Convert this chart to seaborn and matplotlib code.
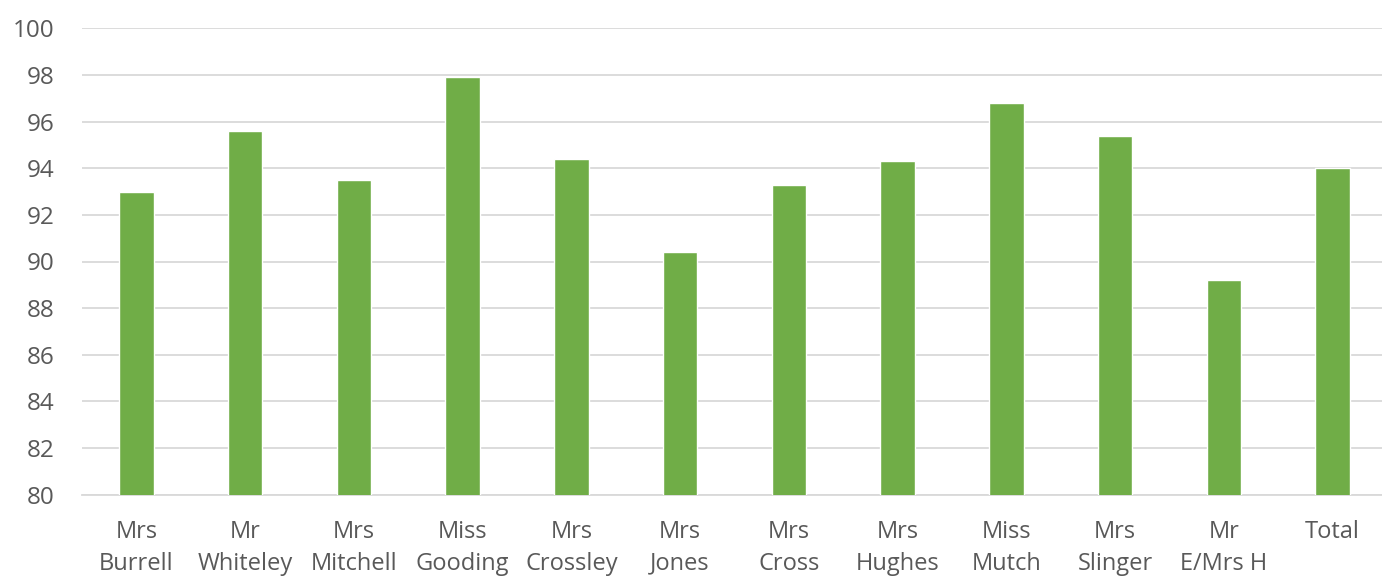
import matplotlib
matplotlib.use("Agg")
import matplotlib.pyplot as plt
import seaborn as sns
import pandas as pd

categories = ["Mrs\nBurrell", "Mr\nWhiteley", "Mrs\nMitchell", "Miss\nGooding", "Mrs\nCrossley",
              "Mrs\nJones", "Mrs\nCross", "Mrs\nHughes", "Miss\nMutch", "Mrs\nSlinger",
              "Mr\nE/Mrs H", "Total"]
attendance = [93.0, 95.6, 93.5, 97.9, 94.4, 90.4, 93.3, 94.3, 96.8, 95.4, 89.2, 94.0]
y_ticks = [80, 82, 84, 86, 88, 90, 92, 94, 96, 98, 100]

df = pd.DataFrame({"cls": categories, "att": attendance})

sns.set_theme(style="white")
plt.rcParams["font.family"] = ["Open Sans", "DejaVu Sans"]

fig = plt.figure(figsize=(13.82, 5.77), dpi=100)
ax = fig.add_axes([82 / 1382, 1 - 494.7 / 577, 1305 / 1382, (494.7 - 28.3) / 577])

sns.barplot(data=df, x="cls", y="att", color="#70ad47", saturation=1, width=0.316, ax=ax, zorder=3)

ax.set_ylim(80, 100)
ax.set_xlim(-0.5, len(categories) - 0.5)
ax.set_yticks(y_ticks)
ax.yaxis.grid(True, color="#d9d9d9", linewidth=1.3, zorder=0)
ax.set_axisbelow(True)
for s in ["top", "right", "left"]:
    ax.spines[s].set_visible(False)
ax.spines["bottom"].set_color("#d9d9d9")
ax.spines["bottom"].set_linewidth(1.3)
ax.set_xlabel("")
ax.set_ylabel("")
ax.tick_params(axis="both", length=0, colors="#595959")
ax.tick_params(axis="x", pad=18, labelsize=17)
ax.tick_params(axis="y", pad=20, labelsize=17.5)
for lbl in ax.get_xticklabels():
    lbl.set_linespacing(1.45)
    lbl.set_verticalalignment("top")

fig.savefig("out.png", dpi=100)
